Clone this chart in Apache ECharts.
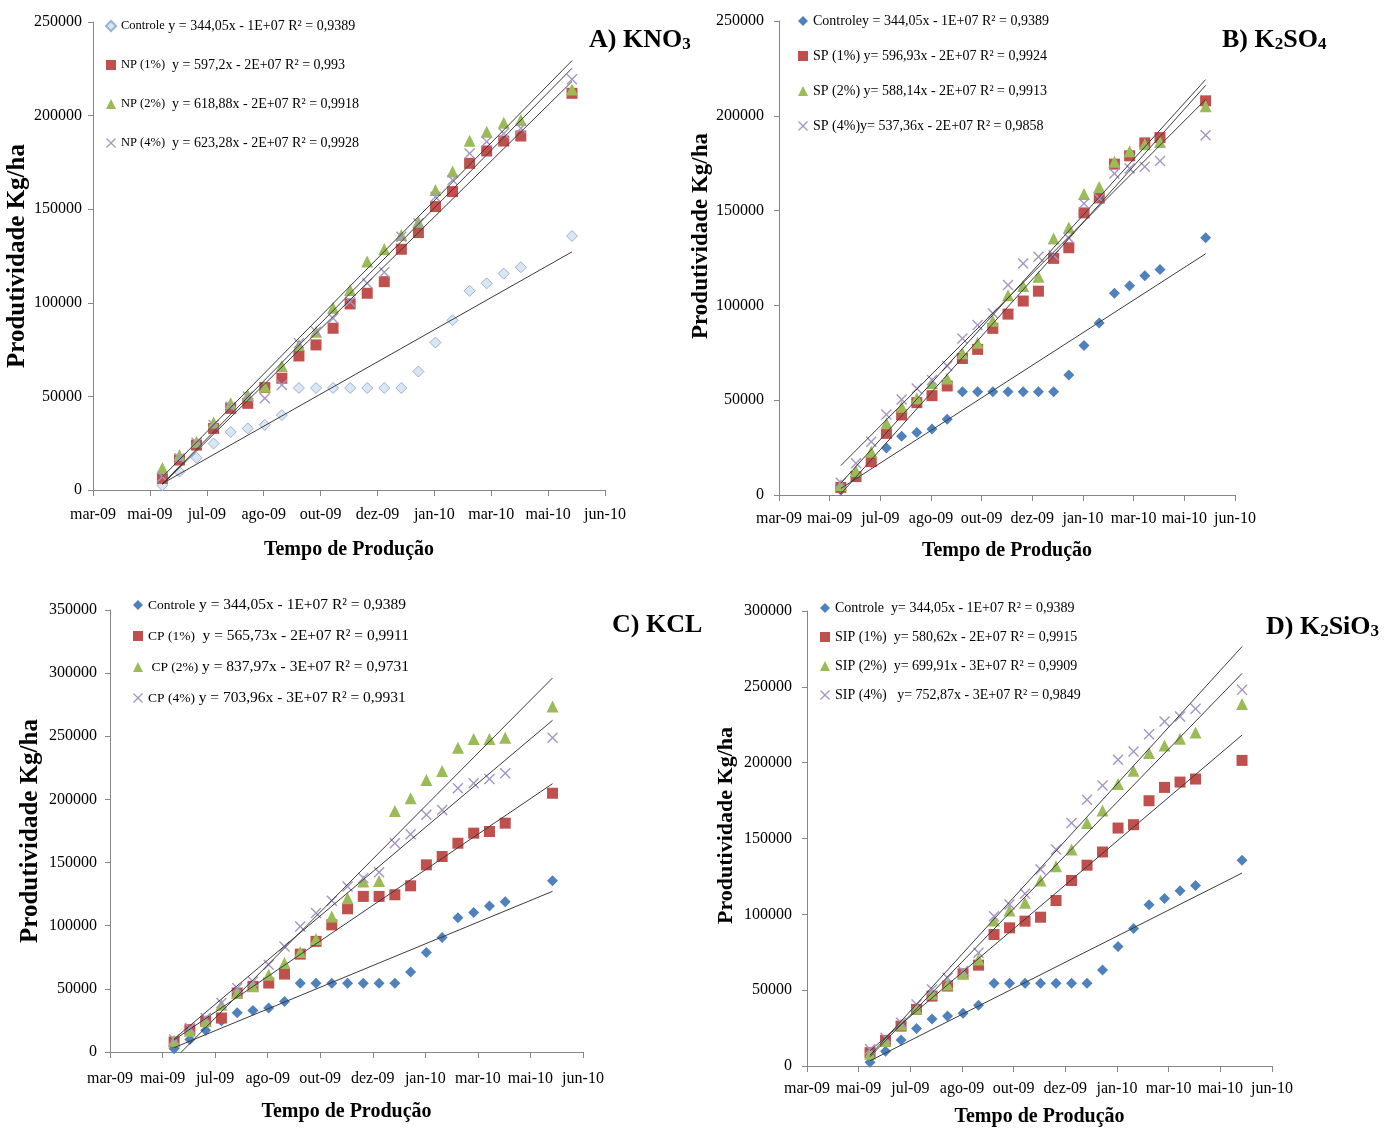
<!DOCTYPE html>
<html>
<head>
<meta charset="utf-8">
<title>Produtividade Kg/ha</title>
<script src="https://cdn.jsdelivr.net/npm/echarts@6.0.0/dist/echarts.min.js"></script>
<style>
  html, body { margin: 0; padding: 0; background: #fff; }
  #chart { width: 1397px; height: 1128px; }
</style>
</head>
<body>
<div id="chart"></div>
<script>
// Sampling dates as Excel serial day numbers (shared by all four panels)
const dates = [39961, 39976, 39991, 40006, 40021, 40036, 40051, 40066, 40081, 40096, 40111, 40126,
  40141, 40156, 40171, 40186, 40201, 40216, 40231, 40246, 40261, 40276, 40321];

// Controle is the same series in every panel
const controle = [2500, 9800, 17200, 24800, 31000, 32900, 34800, 40000, 54500, 54500, 54500, 54500,
  54500, 54500, 54500, 63300, 78800, 90700, 106400, 110400, 115600, 119000, 135700];

// A) KNO3
const np1 = [6200, 16000, 24000, 32900, 43600, 46300, 54700, 59700, 71600, 77500, 86400, 99400,
  105100, 111300, 128600, 137500, 151400, 159400, 174500, 181100, 186400, 189100, 211900];
const np2 = [11800, 18700, 25800, 36000, 46300, 50800, 55200, 66200, 77500, 84600, 97400, 106800,
  122000, 128600, 136200, 143300, 160300, 170100, 186600, 191400, 196200, 197700, 214000];
const np4 = [7100, 16900, 25300, 34700, 44500, 49900, 49000, 56100, 78400, 84600, 91700, 100600,
  110400, 116300, 135300, 142500, 156700, 165600, 179800, 186100, 190500, 193200, 219400];

// B) K2SO4
const sp1 = [4000, 9700, 17600, 32500, 42200, 48700, 52400, 57500, 72000, 76800, 87900, 95400,
  102300, 107500, 124800, 130400, 148800, 156700, 174500, 178900, 185700, 188500, 207900];
const sp2 = [5300, 12700, 22800, 37800, 46600, 51000, 58900, 61500, 74700, 80300, 91900, 105400,
  110200, 115100, 135300, 141100, 158700, 162500, 175700, 181300, 185000, 186200, 205000];
const sp4 = [6500, 16700, 28100, 42500, 50400, 56200, 60600, 68000, 82600, 89600, 95800, 110700,
  122100, 125600, 126500, 135600, 153700, 156400, 169600, 172200, 173100, 176200, 189800];

// C) KCL
const cp1 = [7900, 17700, 24300, 26900, 46700, 52000, 54600, 61700, 77500, 87600, 100700, 113400,
  123200, 123200, 124500, 131600, 148200, 154800, 165300, 173300, 174600, 181200, 204900];
const cp2 = [9000, 16900, 24300, 37500, 46700, 52000, 61200, 70400, 79100, 89400, 107300, 121800,
  135000, 135500, 190900, 200900, 215400, 222600, 241000, 247900, 247900, 248900, 273500];
const cp4 = [9800, 19000, 26900, 38800, 50600, 55900, 69100, 83600, 99400, 110000, 119700, 131100,
  137700, 142400, 165300, 172500, 187800, 191700, 208900, 212800, 216200, 220700, 248900];

// D) K2SiO3
const sip1 = [8800, 16900, 26300, 37300, 46100, 52700, 60800, 66500, 86700, 91100, 95500, 98100,
  109100, 122300, 132400, 141100, 156900, 159100, 174900, 183700, 187200, 189200, 201500];
const sip2 = [8100, 16500, 27400, 37800, 47600, 53800, 60800, 70200, 95900, 102500, 107600, 122300,
  131700, 142700, 160200, 168400, 185900, 194700, 206300, 211400, 215800, 219900, 238600];
const sip4 = [11000, 18700, 28500, 40600, 50500, 58200, 62600, 74600, 98800, 106500, 113500, 129500,
  142700, 160200, 175600, 185000, 201900, 207400, 218800, 227200, 230500, 235500, 248000];

// Legend texts: [series name, trendline equation]
const legendA = [['Controle', ' y = 344,05x - 1E+07 R² = 0,9389'], ['NP (1%)', '  y = 597,2x - 2E+07 R² = 0,993'],
  ['NP (2%)', '  y = 618,88x - 2E+07 R² = 0,9918'], ['NP (4%)', '  y = 623,28x - 2E+07 R² = 0,9928']];
const legendB = [['Controley', ' = 344,05x - 1E+07 R² = 0,9389'], ['SP (1%)', ' y= 596,93x - 2E+07 R² = 0,9924'],
  ['SP (2%)', ' y= 588,14x - 2E+07 R² = 0,9913'], ['SP (4%)', 'y= 537,36x - 2E+07 R² = 0,9858']];
const legendC = [['Controle', ' y = 344,05x - 1E+07 R² = 0,9389'], ['CP (1%)', '  y = 565,73x - 2E+07 R² = 0,9911'],
  [' CP (2%)', ' y = 837,97x - 3E+07 R² = 0,9731'], ['CP (4%)', ' y = 703,96x - 3E+07 R² = 0,9931']];
const legendD = [['Controle', '  y= 344,05x - 1E+07 R² = 0,9389'], ['SIP (1%)', '  y= 580,62x - 2E+07 R² = 0,9915'],
  ['SIP (2%)', '  y= 699,91x - 3E+07 R² = 0,9909'], ['SIP (4%)', '   y= 752,87x - 3E+07 R² = 0,9849']];

const monthNames = ['jan', 'fev', 'mar', 'abr', 'mai', 'jun', 'jul', 'ago', 'set', 'out', 'nov', 'dez'];

const FONT = "'Liberation Serif', 'Times New Roman', serif";
const crossPath = 'path://M0,0.9L0.9,0L5,4.1L9.1,0L10,0.9L5.9,5L10,9.1L9.1,10L5,5.9L0.9,10L0,9.1L4.1,5Z';

// Excel serial -> "mmm-yy"
function fmtDate(v) {
  const d = new Date(Date.UTC(1899, 11, 30) + v * 86400000);
  return monthNames[d.getUTCMonth()] + '-' + String(d.getUTCFullYear()).slice(2);
}

// Least squares line over the data range (Excel linear trendline)
function trend(xs, ys) {
  const n = xs.length;
  const mx = xs.reduce((a, b) => a + b, 0) / n;
  const my = ys.reduce((a, b) => a + b, 0) / n;
  let sxy = 0, sxx = 0;
  for (let i = 0; i < n; i++) {
    sxy += (xs[i] - mx) * (ys[i] - my);
    sxx += (xs[i] - mx) * (xs[i] - mx);
  }
  const b = sxy / sxx, a = my - b * mx;
  return [[xs[0], a + b * xs[0]], [xs[n - 1], a + b * xs[n - 1]]];
}

const panels = [
  { key: 'A', grid: { left: 93, top: 22, width: 512, height: 468 }, yMax: 250000,
    title: ['A) KNO', '3'], titlePos: { left: 589, top: 21 },
    data: [controle, np1, np2, np4], labels: legendA, light: true,
    legend: { left: 105, top: 19, itemGap: 25 }, fs: { n: 12.5, e: 14 },
    xMargin: 17, yMargin: 11, xGap: 50, yGap: 60, yNameSize: 25, yNamePad: 0 },
  { key: 'B', grid: { left: 779, top: 21, width: 456, height: 474 }, yMax: 250000,
    title: ['B) K', '2', 'SO', '4'], titlePos: { left: 1222, top: 21 },
    data: [controle, sp1, sp2, sp4], labels: legendB, light: false,
    legend: { left: 798, top: 14, itemGap: 21 }, fs: { n: 14, e: 14 },
    xMargin: 16, yMargin: 15, xGap: 46, yGap: 62, yNameSize: 23, yNamePad: 44 },
  { key: 'C', grid: { left: 110, top: 610, width: 473, height: 442 }, yMax: 350000,
    title: ['C) KCL'], titlePos: { left: 612, top: 606 },
    data: [controle, cp1, cp2, cp4], labels: legendC, light: false,
    legend: { left: 133, top: 597, itemGap: 15 }, fs: { n: 13.5, e: 15.5 },
    xMargin: 19, yMargin: 13, xGap: 50, yGap: 67, yNameSize: 25, yNamePad: 0 },
  { key: 'D', grid: { left: 807, top: 611, width: 465, height: 456 }, yMax: 300000,
    title: ['D) K', '2', 'SiO', '3'], titlePos: { left: 1266, top: 608 },
    data: [controle, sip1, sip2, sip4], labels: legendD, light: false,
    legend: { left: 820, top: 601, itemGap: 15 }, fs: { n: 14, e: 14 },
    xMargin: 15, yMargin: 15, xGap: 41, yGap: 70, yNameSize: 22, yNamePad: 26 }
];

function markStyles(light) {
  return [
    light
      ? { symbol: 'diamond', symbolSize: 11, itemStyle: { color: '#dce6f2', borderColor: '#95b3d7', borderWidth: 1, opacity: 1 } }
      : { symbol: 'diamond', symbolSize: 11, itemStyle: { color: '#4f81bd', opacity: 1 } },
    { symbol: 'rect', symbolSize: 11, itemStyle: { color: '#c0504d', opacity: 1 } },
    { symbol: 'triangle', symbolSize: 12, itemStyle: { color: '#9bbb59', opacity: 1 } },
    { symbol: crossPath, symbolSize: 11, itemStyle: { color: '#a595c6', opacity: 1 } }
  ];
}

const grids = [], xAxes = [], yAxes = [], series = [], legends = [], titles = [];
const axisColor = '#868686';

panels.forEach((p, gi) => {
  grids.push(p.grid);
  xAxes.push({
    type: 'value', gridIndex: gi, min: 39900, max: 40350, interval: 50,
    axisLine: { show: true, onZero: false, lineStyle: { color: axisColor } },
    axisTick: { show: true, length: 6, lineStyle: { color: axisColor } },
    splitLine: { show: false },
    axisLabel: { formatter: fmtDate, color: '#000', fontSize: 16, fontFamily: FONT, margin: p.xMargin,
      showMinLabel: true, showMaxLabel: true },
    name: 'Tempo de Produção', nameLocation: 'middle', nameGap: p.xGap,
    nameTextStyle: { color: '#000', fontSize: 20, fontWeight: 'bold', fontFamily: FONT }
  });
  yAxes.push({
    type: 'value', gridIndex: gi, min: 0, max: p.yMax, interval: 50000,
    axisLine: { show: true, lineStyle: { color: axisColor } },
    axisTick: { show: true, length: 5, lineStyle: { color: axisColor } },
    splitLine: { show: false },
    axisLabel: { color: '#000', fontSize: 16, fontFamily: FONT, margin: p.yMargin, formatter: v => String(v) },
    name: 'Produtividade Kg/ha', nameLocation: 'middle', nameGap: p.yGap,
    nameTextStyle: { color: '#000', fontSize: p.yNameSize, fontWeight: 'bold', fontFamily: FONT,
      padding: [0, 0, 0, p.yNamePad] }
  });

  const styles = markStyles(p.light);
  const names = [];
  const labelMap = {};
  p.data.forEach((ys, k) => {
    const name = p.key + k;
    names.push(name);
    labelMap[name] = p.labels[k];
    series.push({
      name, type: 'scatter', xAxisIndex: gi, yAxisIndex: gi,
      data: dates.map((d, i) => [d, ys[i]]),
      symbol: styles[k].symbol, symbolSize: styles[k].symbolSize, itemStyle: styles[k].itemStyle,
      z: 2, animation: false
    });
  });
  p.data.forEach(ys => {
    series.push({
      type: 'line', xAxisIndex: gi, yAxisIndex: gi, data: trend(dates, ys),
      showSymbol: false, silent: true, z: 3, animation: false,
      lineStyle: { color: '#3c3c3c', width: 1 }
    });
  });

  legends.push({
    data: names, orient: 'vertical', left: p.legend.left, top: p.legend.top,
    itemGap: p.legend.itemGap, itemWidth: 10, itemHeight: 10, selectedMode: false, padding: 0,
    formatter: name => '{n|' + labelMap[name][0] + '}{e|' + labelMap[name][1] + '}',
    textStyle: {
      color: '#000', fontFamily: FONT,
      rich: {
        n: { fontSize: p.fs.n, fontFamily: FONT, color: '#000', lineHeight: 16 },
        e: { fontSize: p.fs.e, fontFamily: FONT, color: '#000', lineHeight: 16 }
      }
    }
  });

  // Panel title with chemical subscripts
  let txt = '';
  p.title.forEach((part, i) => {
    if (part) txt += (i % 2 === 0 ? '{t|' : '{s|') + part + '}';
  });
  titles.push({
    text: txt, left: p.titlePos.left, top: p.titlePos.top, padding: 0,
    textStyle: {
      rich: {
        t: { fontSize: 26, fontWeight: 'bold', fontFamily: FONT, color: '#000', lineHeight: 32, verticalAlign: 'bottom' },
        s: { fontSize: 17, fontWeight: 'bold', fontFamily: FONT, color: '#000', lineHeight: 14, verticalAlign: 'bottom' }
      }
    }
  });
});

const chart = echarts.init(document.getElementById('chart'), null, { renderer: 'canvas' });
chart.setOption({
  backgroundColor: '#fff',
  animation: false,
  title: titles,
  legend: legends,
  grid: grids,
  xAxis: xAxes,
  yAxis: yAxes,
  series
});
</script>
</body>
</html>
